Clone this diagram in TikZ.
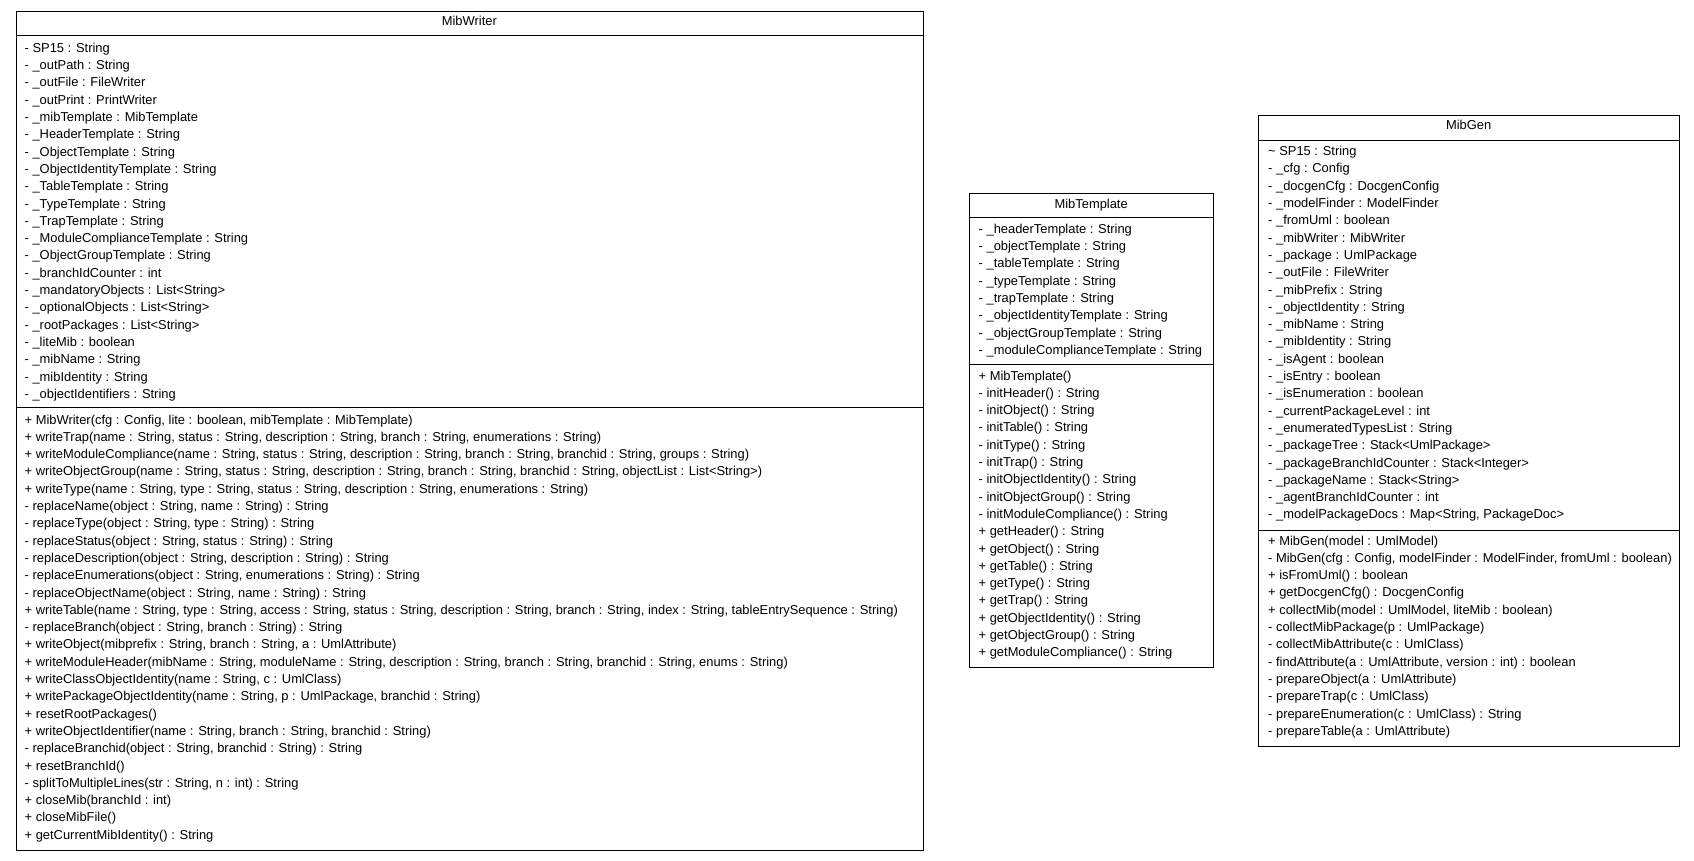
\documentclass[tikz,border=0pt]{standalone}
\usepackage{fontspec}
\setmainfont{Liberation Sans}
\begin{document}
\begin{tikzpicture}[x=1pt,y=-1pt,
  classbox/.style={draw=black,line width=1pt,rectangle,inner sep=0pt,anchor=north west},
  sep/.style={draw=black,line width=1pt},
  txt/.style={anchor=west,inner sep=0pt,text height=9.2pt,text depth=2.6pt,font=\fontsize{12.9}{15}\selectfont},
  ttl/.style={anchor=center,inner sep=0pt,text height=9.2pt,text depth=2.6pt,font=\fontsize{12.9}{15}\selectfont}]
\useasboundingbox (0,0) rectangle (1694,860);
\fill[white] (0,0) rectangle (1694,860);

% ---------------- MibWriter ----------------
\node[classbox,minimum width=907.3pt,minimum height=839pt] (mw) at (15.7,11) {};
\node[ttl] (mwt) at (469.35,22.3) {MibWriter};
\draw[sep] (mw.west |- 0,35.7) -- (mw.east |- 0,35.7);
\draw[sep] (mw.west |- 0,407) -- (mw.east |- 0,407);
\foreach \t [count=\i] in {
 {- SP15 : String},
 {- \_outPath : String},
 {- \_outFile : FileWriter},
 {- \_outPrint : PrintWriter},
 {- \_mibTemplate : MibTemplate},
 {- \_HeaderTemplate : String},
 {- \_ObjectTemplate : String},
 {- \_ObjectIdentityTemplate : String},
 {- \_TableTemplate : String},
 {- \_TypeTemplate : String},
 {- \_TrapTemplate : String},
 {- \_ModuleComplianceTemplate : String},
 {- \_ObjectGroupTemplate : String},
 {- \_branchIdCounter : int},
 {- \_mandatoryObjects : List<String>},
 {- \_optionalObjects : List<String>},
 {- \_rootPackages : List<String>},
 {- \_liteMib : boolean},
 {- \_mibName : String},
 {- \_mibIdentity : String},
 {- \_objectIdentifiers : String}}
 \node[txt] (mwa\i) at (24.5,{49+17.3*(\i-1)}) {\t};
\foreach \t [count=\i] in {
 {+ MibWriter(cfg : Config, lite : boolean, mibTemplate : MibTemplate)},
 {+ writeTrap(name : String, status : String, description : String, branch : String, enumerations : String)},
 {+ writeModuleCompliance(name : String, status : String, description : String, branch : String, branchid : String, groups : String)},
 {+ writeObjectGroup(name : String, status : String, description : String, branch : String, branchid : String, objectList : List<String>)},
 {+ writeType(name : String, type : String, status : String, description : String, enumerations : String)},
 {- replaceName(object : String, name : String) : String},
 {- replaceType(object : String, type : String) : String},
 {- replaceStatus(object : String, status : String) : String},
 {- replaceDescription(object : String, description : String) : String},
 {- replaceEnumerations(object : String, enumerations : String) : String},
 {- replaceObjectName(object : String, name : String) : String},
 {+ writeTable(name : String, type : String, access : String, status : String, description : String, branch : String, index : String, tableEntrySequence : String)},
 {- replaceBranch(object : String, branch : String) : String},
 {+ writeObject(mibprefix : String, branch : String, a : UmlAttribute)},
 {+ writeModuleHeader(mibName : String, moduleName : String, description : String, branch : String, branchid : String, enums : String)},
 {+ writeClassObjectIdentity(name : String, c : UmlClass)},
 {+ writePackageObjectIdentity(name : String, p : UmlPackage, branchid : String)},
 {+ resetRootPackages()},
 {+ writeObjectIdentifier(name : String, branch : String, branchid : String)},
 {- replaceBranchid(object : String, branchid : String) : String},
 {+ resetBranchId()},
 {- splitToMultipleLines(str : String, n : int) : String},
 {+ closeMib(branchId : int)},
 {+ closeMibFile()},
 {+ getCurrentMibIdentity() : String}}
 \node[txt] (mwo\i) at (24.5,{420.7+17.3*(\i-1)}) {\t};

% ---------------- MibTemplate ----------------
\node[classbox,minimum width=244.3pt,minimum height=474pt] (mt) at (969,192.7) {};
\node[ttl] (mtt) at (1091.15,205) {MibTemplate};
\draw[sep] (mt.west |- 0,217.7) -- (mt.east |- 0,217.7);
\draw[sep] (mt.west |- 0,364.3) -- (mt.east |- 0,364.3);
\foreach \t [count=\i] in {
 {- \_headerTemplate : String},
 {- \_objectTemplate : String},
 {- \_tableTemplate : String},
 {- \_typeTemplate : String},
 {- \_trapTemplate : String},
 {- \_objectIdentityTemplate : String},
 {- \_objectGroupTemplate : String},
 {- \_moduleComplianceTemplate : String}}
 \node[txt] (mta\i) at (978.5,{230+17.3*(\i-1)}) {\t};
\foreach \t [count=\i] in {
 {+ MibTemplate()},
 {- initHeader() : String},
 {- initObject() : String},
 {- initTable() : String},
 {- initType() : String},
 {- initTrap() : String},
 {- initObjectIdentity() : String},
 {- initObjectGroup() : String},
 {- initModuleCompliance() : String},
 {+ getHeader() : String},
 {+ getObject() : String},
 {+ getTable() : String},
 {+ getType() : String},
 {+ getTrap() : String},
 {+ getObjectIdentity() : String},
 {+ getObjectGroup() : String},
 {+ getModuleCompliance() : String}}
 \node[txt] (mto\i) at (978.5,{376.7+17.3*(\i-1)}) {\t};

% ---------------- MibGen ----------------
\node[classbox,minimum width=420.7pt,minimum height=630.7pt] (mg) at (1258.3,115) {};
\node[ttl] (mgt) at (1468.65,126) {MibGen};
\draw[sep] (mg.west |- 0,140.7) -- (mg.east |- 0,140.7);
\draw[sep] (mg.west |- 0,530) -- (mg.east |- 0,530);
\foreach \t [count=\i] in {
 {\textasciitilde\ SP15 : String},
 {- \_cfg : Config},
 {- \_docgenCfg : DocgenConfig},
 {- \_modelFinder : ModelFinder},
 {- \_fromUml : boolean},
 {- \_mibWriter : MibWriter},
 {- \_package : UmlPackage},
 {- \_outFile : FileWriter},
 {- \_mibPrefix : String},
 {- \_objectIdentity : String},
 {- \_mibName : String},
 {- \_mibIdentity : String},
 {- \_isAgent : boolean},
 {- \_isEntry : boolean},
 {- \_isEnumeration : boolean},
 {- \_currentPackageLevel : int},
 {- \_enumeratedTypesList : String},
 {- \_packageTree : Stack<UmlPackage>},
 {- \_packageBranchIdCounter : Stack<Integer>},
 {- \_packageName : Stack<String>},
 {- \_agentBranchIdCounter : int},
 {- \_modelPackageDocs : Map<String, PackageDoc>}}
 \node[txt] (mga\i) at (1268,{152.3+17.3*(\i-1)}) {\t};
\foreach \t [count=\i] in {
 {+ MibGen(model : UmlModel)},
 {- MibGen(cfg : Config, modelFinder : ModelFinder, fromUml : boolean)},
 {+ isFromUml() : boolean},
 {+ getDocgenCfg() : DocgenConfig},
 {+ collectMib(model : UmlModel, liteMib : boolean)},
 {- collectMibPackage(p : UmlPackage)},
 {- collectMibAttribute(c : UmlClass)},
 {- findAttribute(a : UmlAttribute, version : int) : boolean},
 {- prepareObject(a : UmlAttribute)},
 {- prepareTrap(c : UmlClass)},
 {- prepareEnumeration(c : UmlClass) : String},
 {- prepareTable(a : UmlAttribute)}}
 \node[txt] (mgo\i) at (1268,{541.7+17.3*(\i-1)}) {\t};
\end{tikzpicture}
\end{document}
